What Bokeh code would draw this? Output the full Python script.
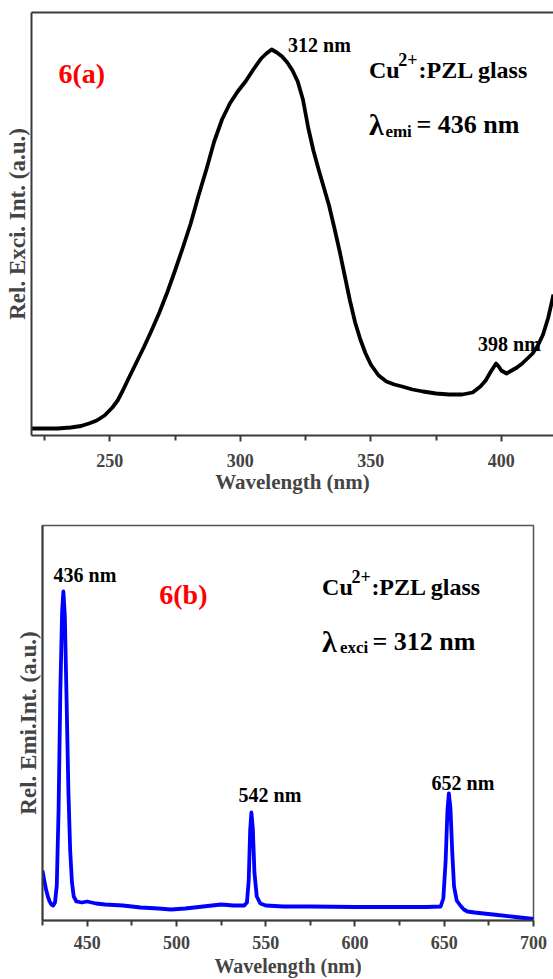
from bokeh.plotting import figure
from bokeh.models import Range1d, LinearAxis, FixedTicker, Label
from bokeh.embed import file_html
from bokeh.resources import INLINE

# ---------------- data: panel 6(a) excitation spectrum ----------------
exc_wavelength = [220, 225, 230, 235, 239, 242, 245, 248, 251, 253, 255, 257, 260, 263, 266,
                  269, 272, 275, 278, 281, 284, 287, 290, 293, 296, 299, 302, 305, 308, 310,
                  312, 314, 316, 318, 320, 322, 324, 326, 328, 330, 332, 334, 336, 338, 340,
                  342, 344, 346, 348, 350, 353, 356, 359, 362, 366, 370, 375, 380, 385, 389,
                  392, 394, 396, 398, 399, 400, 402, 404, 406, 408, 410, 412, 414, 416, 418, 420]
exc_intensity = [7, 7, 7, 8, 9.5, 12, 15, 20, 28, 35, 45, 56, 72, 88, 105,
                 123, 143, 165, 188, 212, 240, 266, 294, 316, 332, 344, 354, 366, 377, 382,
                 386, 383, 379, 373, 365, 354, 336, 308, 285, 266, 248, 230, 208, 185, 160,
                 135, 113, 96, 82, 71, 60, 54, 51, 49, 46, 44, 42, 41, 41, 43,
                 49, 55, 64, 72, 69, 65, 62, 65, 68, 72, 77, 82, 90, 101, 118, 141]
exc_major_ticks = [250, 300, 350, 400]
exc_minor_ticks = [225, 275, 325, 375]

# ---------------- data: panel 6(b) emission spectrum ----------------
emi_wavelength = [425, 426, 427, 428, 429, 430, 431, 432, 433, 434, 435, 436, 436.7, 437.5, 438.5,
                  439.5, 440.5, 441.5, 442.5, 444, 447, 450, 455, 460, 470, 480, 490, 497, 505,
                  515, 525, 532, 538, 539.5, 540.5, 541.3, 542, 542.8, 543.7, 545, 547, 550, 560,
                  575, 600, 620, 640, 648, 649.5, 650.8, 651.8, 652.6, 653.5, 654.5, 655.5, 657,
                  659, 661, 663, 667, 672, 680, 690, 700]
emi_intensity = [50, 40, 31, 24, 19, 16, 15, 18, 35, 110, 230, 310, 329, 305, 220,
                 130, 70, 38, 24, 19, 18, 19, 17, 16, 15, 13, 12, 11, 12,
                 14, 16, 15, 15, 18, 40, 90, 108, 92, 48, 24, 17, 15, 14,
                 14, 13.5, 13.5, 13.5, 14, 22, 60, 110, 127, 112, 68, 34, 20,
                 15, 11, 9, 8, 7, 5.5, 3.5, 1.5]
emi_major_ticks = [450, 500, 550, 600, 650, 700]
emi_minor_ticks = [425, 475, 525, 575, 625, 675]

FONT = "Liberation Serif"
AXIS_COLOR = "#3a3a3a"


def style_xaxis(ax, major, minor, label_size, tick_standoff, label_standoff):
    ax.ticker = FixedTicker(ticks=major, minor_ticks=minor)
    ax.axis_label = "Wavelength (nm)"
    ax.axis_label_text_font = FONT
    ax.axis_label_text_font_style = "bold"
    ax.axis_label_text_font_size = label_size
    ax.axis_label_standoff = label_standoff
    ax.major_label_text_font = FONT
    ax.major_label_text_font_style = "bold"
    ax.major_label_text_font_size = "18px"
    ax.major_label_standoff = tick_standoff
    ax.axis_line_color = AXIS_COLOR
    ax.axis_line_width = 2
    ax.major_tick_line_color = AXIS_COLOR
    ax.major_tick_line_width = 2
    ax.minor_tick_line_color = AXIS_COLOR
    ax.minor_tick_line_width = 2
    ax.major_tick_in = 0
    ax.major_tick_out = 6
    ax.minor_tick_in = 0
    ax.minor_tick_out = 5


def style_yaxis(ax, label):
    ax.ticker = FixedTicker(ticks=[])
    ax.axis_label = label
    ax.axis_label_text_font = FONT
    ax.axis_label_text_font_style = "bold"
    ax.axis_label_text_font_size = "23px"
    ax.axis_label_standoff = 2
    ax.major_label_standoff = 0
    ax.major_tick_line_color = None
    ax.minor_tick_line_color = None
    ax.axis_line_color = AXIS_COLOR
    ax.axis_line_width = 2


def add_text(p, x, y, text, size, color="black"):
    p.add_layout(Label(x=x, y=y, text=text, text_font=FONT, text_font_style="bold",
                       text_font_size=size, text_color=color, text_align="left",
                       text_baseline="alphabetic"))


# ---------------- panel (a) ----------------
p1 = figure(width=553, height=505, x_range=Range1d(220, 420), y_range=Range1d(0, 423),
            output_backend="svg", toolbar_location=None,
            min_border_left=31, min_border_right=0, min_border_top=12, min_border_bottom=70)
p1.outline_line_color = None
p1.grid.visible = False
style_xaxis(p1.xaxis[0], exc_major_ticks, exc_minor_ticks, "21px", 12, 0)
style_yaxis(p1.yaxis[0], "Rel. Exci. Int. (a.u.)")
top_axis = LinearAxis(ticker=FixedTicker(ticks=[]), axis_line_color=AXIS_COLOR, axis_line_width=2,
                      major_tick_line_color=None, minor_tick_line_color=None, major_label_standoff=0)
p1.add_layout(top_axis, "above")

p1.line(exc_wavelength, exc_intensity, line_color="black", line_width=3.8, line_join="round")

add_text(p1, 230.3, 362, "6(a)", "28px", color="#ff0000")
add_text(p1, 318.3, 391, "312 nm", "20px")
add_text(p1, 391.1, 92, "398 nm", "20px")
add_text(p1, 349.3, 365.5, "Cu", "24px")
add_text(p1, 360.5, 376, "2+", "18px")
add_text(p1, 368.3, 365.5, ":PZL glass", "24px")
add_text(p1, 349.3, 311.5, "\u03bb", "30px")
add_text(p1, 355.6, 304.5, "emi", "17px")
add_text(p1, 367.5, 311.5, "= 436 nm", "26px")

# ---------------- panel (b) ----------------
p2 = figure(width=553, height=474, x_range=Range1d(425, 700), y_range=Range1d(0, 395),
            output_backend="svg", toolbar_location=None,
            min_border_left=42, min_border_right=20, min_border_top=20, min_border_bottom=59)
p2.outline_line_color = "#555555"
p2.outline_line_width = 1.5
p2.grid.visible = False
style_xaxis(p2.xaxis[0], emi_major_ticks, emi_minor_ticks, "20px", 9, 3)
style_yaxis(p2.yaxis[0], "Rel. Emi.Int. (a.u.)")

p2.line(emi_wavelength, emi_intensity, line_color="#0000ff", line_width=3.8, line_join="round")

add_text(p2, 431.2, 346, "436 nm", "20px")
add_text(p2, 490.4, 326.5, "6(b)", "28px", color="#ff0000")
add_text(p2, 534.8, 126, "542 nm", "20px")
add_text(p2, 642.9, 138, "652 nm", "20px")
add_text(p2, 581.6, 334, "Cu", "24px")
add_text(p2, 598.0, 344, "2+", "18px")
add_text(p2, 609.2, 334, ":PZL glass", "24px")
add_text(p2, 581.6, 279, "\u03bb", "30px")
add_text(p2, 591.6, 273, "exci", "17px")
add_text(p2, 609.8, 279, "= 312 nm", "26px")

open("out.html", "w").write(file_html([p1, p2], INLINE))
